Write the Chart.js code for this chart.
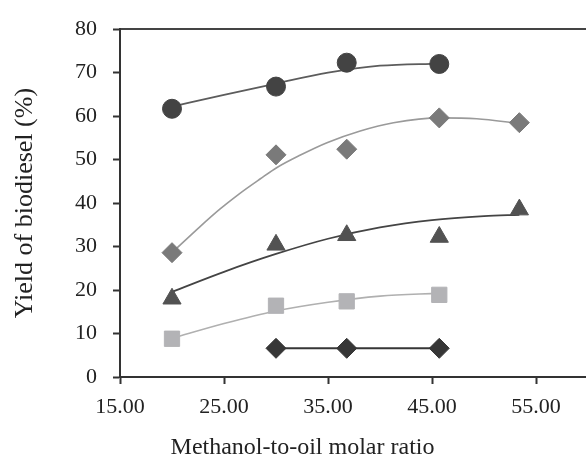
<!DOCTYPE html>
<html><head><meta charset="utf-8">
<script src="https://cdn.jsdelivr.net/npm/chart.js@4.4.1/dist/chart.umd.min.js"></script>
<style>html,body{margin:0;padding:0;background:#fff;overflow:hidden}#wrap{width:620px;height:458px}</style>
</head><body><div id="wrap"><canvas id="c" width="620" height="458"></canvas></div>
<script>
// Methanol-to-oil molar ratio (x) and yield of biodiesel (%)
const xTicks = [15, 25, 35, 45, 55];
const xTickLabels = ['15.00', '25.00', '35.00', '45.00', '55.00'];
const yTicks = [0, 10, 20, 30, 40, 50, 60, 70, 80];

const circleX = [20, 30, 36.8, 45.7];
const circleY = [61.7, 66.8, 72.3, 72.0];
const diamondX = [20, 30, 36.8, 45.7, 53.4];
const diamondY = [28.6, 51.1, 52.4, 59.6, 58.5];
const triangleX = [20, 30, 36.8, 45.7, 53.4];
const triangleY = [18.0, 30.4, 32.6, 32.2, 38.5];
const squareX = [20, 30, 36.8, 45.7];
const squareY = [8.8, 16.4, 17.4, 18.9];
const blackX = [30, 36.8, 45.7];
const blackY = [6.6, 6.6, 6.6];

// trend lines
const circleTrendX = [20, 25, 30, 35, 40, 45.7];
const circleTrendY = [62.2, 64.9, 67.5, 70.0, 71.6, 72.1];
const diamondTrendX = [20, 22.7, 24.6, 26.5, 28.5, 30.1, 32.3, 34.9, 38.1, 41.3, 45.8, 49.3, 53.4];
const diamondTrendY = [28.6, 34.6, 38.6, 42.2, 45.6, 48.2, 51.0, 53.9, 56.6, 58.5, 59.6, 59.4, 58.3];
const triangleTrendX = [20, 25, 30, 35, 40, 45, 50, 53.4];
const triangleTrendY = [19.6, 24.2, 28.3, 31.8, 34.4, 36.1, 37.0, 37.3];
const squareTrendX = [20, 25, 30, 35, 40, 45.7];
const squareTrendY = [8.9, 12.3, 15.2, 17.2, 18.6, 19.3];

const pts = (xs, ys) => xs.map((x, i) => ({x: x, y: ys[i]}));
const FONT = 'Liberation Serif';
const TXT = '#222222';

function marker(xs, ys, style, r, color, line) {
  return {
    data: pts(xs, ys), pointStyle: style, pointRadius: r, pointHoverRadius: r,
    backgroundColor: color, borderColor: color, pointBorderWidth: 1,
    showLine: !!line, borderWidth: line ? 2 : 0, order: 0
  };
}
function trend(xs, ys, color, w) {
  return {
    data: pts(xs, ys), showLine: true, pointRadius: 0, borderColor: color,
    borderWidth: w, cubicInterpolationMode: 'monotone', order: 1, fill: false
  };
}

new Chart(document.getElementById('c'), {
  type: 'scatter',
  data: {
    datasets: [
      marker(circleX, circleY, 'circle', 9.5, '#434343'),
      marker(diamondX, diamondY, 'rectRot', 10, '#7a7a7a'),
      marker(triangleX, triangleY, 'triangle', 10.5, '#525252'),
      marker(squareX, squareY, 'rect', 10.8, '#b3b3b6'),
      marker(blackX, blackY, 'rectRot', 10, '#363636', true),
      trend(circleTrendX, circleTrendY, '#5c5c5c', 1.8),
      trend(diamondTrendX, diamondTrendY, '#9a9a9a', 1.6),
      trend(triangleTrendX, triangleTrendY, '#444444', 1.8),
      trend(squareTrendX, squareTrendY, '#b0b0b0', 1.6)
    ]
  },
  options: {
    responsive: false, animation: false, devicePixelRatio: 1,
    layout: {padding: {left: 17, right: 32, top: 25, bottom: 0}},
    plugins: {
      legend: {display: false}, tooltip: {enabled: false},
      title: {display: true, position: 'bottom', text: 'Methanol-to-oil molar ratio',
        font: {family: FONT, size: 24, weight: 'normal', lineHeight: 0.85}, color: TXT,
        padding: {top: 3, bottom: 0}}
    },
    scales: {
      x: {
        type: 'linear', min: 15, max: 60,
        afterBuildTicks: s => { s.ticks = xTicks.map(v => ({value: v})); },
        afterFit: s => { s.height = 57.6; },
        ticks: {
          callback: (v) => { const i = xTicks.indexOf(v); return i >= 0 ? xTickLabels[i] : ''; },
          font: {family: FONT, size: 22}, color: TXT, padding: 10, maxRotation: 0, autoSkip: false
        },
        grid: {drawOnChartArea: false, drawTicks: true, tickLength: 7, tickColor: '#333', tickWidth: 2},
        border: {display: true, color: '#333', width: 2}
      },
      xTop: {
        type: 'linear', position: 'top', min: 15, max: 60,
        afterFit: s => { s.height = 0; },
        ticks: {display: false},
        grid: {display: false, drawTicks: false},
        border: {display: true, color: '#444', width: 2}
      },
      y: {
        type: 'linear', min: 0, max: 80,
        afterBuildTicks: s => { s.ticks = yTicks.map(v => ({value: v})); },
        afterFit: s => { s.width = 103; },
        ticks: {font: {family: FONT, size: 22}, color: TXT, padding: 16},
        grid: {drawOnChartArea: false, drawTicks: true, tickLength: 7, tickWidth: 2, tickColor: '#333'},
        border: {display: true, color: '#333', width: 2},
        title: {display: true, text: 'Yield of biodiesel (%)', font: {family: FONT, size: 26, lineHeight: 0.6}, color: TXT, padding: {top: 0, bottom: 0}}
      }
    }
  }
});
</script></body></html>
